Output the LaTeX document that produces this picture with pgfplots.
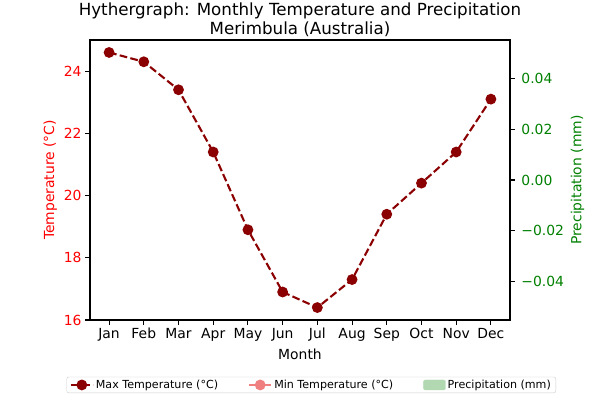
\documentclass[border=0pt]{standalone}
\usepackage{pgfplots}
\pgfplotsset{compat=1.18}
\usepackage{fontspec}
\setmainfont{DejaVu Sans}
\definecolor{mred}{HTML}{FF0000}
\definecolor{mgreen}{HTML}{008000}
\definecolor{mdarkred}{HTML}{8B0000}
\definecolor{mcoral}{HTML}{F08080}
\definecolor{mlgreen}{HTML}{B2D8B2}
\begin{document}
\begin{tikzpicture}[font=\fontsize{13.9}{16}\selectfont]
\useasboundingbox (-90pt,-80pt) rectangle (510pt,320pt);
\begin{axis}[
  at={(0pt,0pt)}, anchor=south west,
  scale only axis, width=420pt, height=280pt,
  xmin=-0.55, xmax=11.55, ymin=16, ymax=25,
  xtick={0,...,11},
  xticklabels={Jan,Feb,Mar,Apr,May,Jun,Jul,Aug,Sep,Oct,Nov,Dec},
  ytick={16,18,20,22,24},
  /pgf/number format/assume math mode=true,
  tick align=outside, major tick length=4.9pt,
  xtick pos=bottom, ytick pos=left,
  axis line style={line width=1.1pt},
  every tick/.style={black, line width=1.1pt},
  yticklabel style={color=mred},
  ylabel={Temperature (°C)}, ylabel style={color=mred},
  xlabel={Month},
  title={Hythergraph: Monthly Temperature and Precipitation\\Merimbula (Australia)},
  title style={align=center, font=\fontsize{16.7}{18.5}\selectfont, yshift=-6pt},
  legend columns=3,
  legend style={at={(0.527,-0.232)}, anchor=center, draw=black!20, rounded corners=2pt,
    font=\fontsize{11.1}{13}\selectfont, inner ysep=1pt,
    /tikz/every even column/.append style={column sep=28pt}},
  legend image code/.code={\draw[#1] (0pt,0pt) -- (22pt,0pt); \draw[#1, solid, mark repeat=1] plot coordinates {(11pt,0pt)};},
]
\addplot[mdarkred, line width=2.1pt, dash pattern=on 7.7pt off 3.3pt,
  mark=*, mark size=4.3pt, mark options={solid, fill=mdarkred, draw=mdarkred}]
  coordinates {(0,24.6) (1,24.3) (2,23.4) (3,21.4) (4,18.9) (5,16.9) (6,16.4) (7,17.3) (8,19.4) (9,20.4) (10,21.4) (11,23.1)};
\addlegendentry{Max Temperature (°C)}
\addlegendimage{mcoral, line width=2.1pt, mark=*, mark size=4.3pt, mark options={fill=mcoral, draw=mcoral}}
\addlegendentry{Min Temperature (°C)}
\addlegendimage{legend image code/.code={\fill[mlgreen] (0pt,-5pt) rectangle (22pt,5pt);}}
\addlegendentry{Precipitation (mm)}
\end{axis}
\begin{axis}[
  at={(0pt,0pt)}, anchor=south west,
  scale only axis, width=420pt, height=280pt,
  xmin=-0.55, xmax=11.55, ymin=-0.055, ymax=0.055,
  axis x line=none, axis y line*=right,
  axis line style={line width=1.1pt, -},
  tick align=outside, major tick length=4.9pt,
  every tick/.style={black, line width=1.1pt},
  scaled y ticks=false,
  ytick={-0.04,-0.02,0,0.02,0.04},
  yticklabels={−0.04,−0.02,0.00,0.02,0.04},
  yticklabel style={color=mgreen, xshift=3pt},
  ylabel={Precipitation (mm)}, ylabel style={color=mgreen},
]
\addplot[draw=none] coordinates {(0,0)};
\end{axis}
\end{tikzpicture}
\end{document}
